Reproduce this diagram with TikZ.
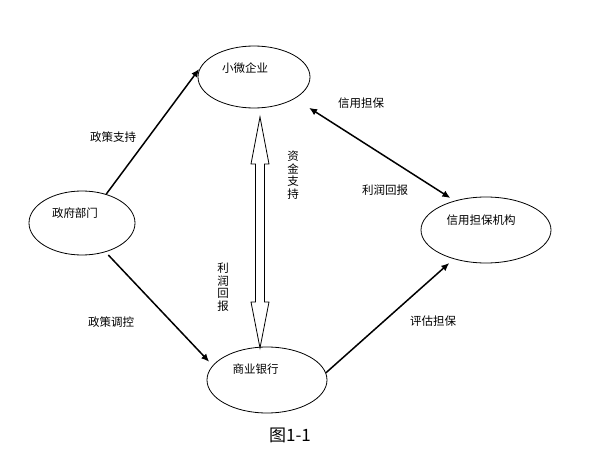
\documentclass[tikz,border=0pt]{standalone}
\usepackage{fontspec}
\setmainfont{Noto Sans CJK SC}
\newfontfamily\cjk{Noto Sans CJK SC}
\usetikzlibrary{shapes.geometric,arrows.meta}
\begin{document}
\begin{tikzpicture}[x=1pt,y=-1pt,
  ell/.style={draw,ellipse,line width=0.8pt,inner sep=0pt},
  lbl/.style={font=\cjk\fontsize{11.5}{12.5}\selectfont,inner sep=0pt},
  vlbl/.style={lbl,align=center},
  conn/.style={line width=1.5pt,-{Latex[length=8pt,width=7pt]}},
  biconn/.style={line width=1.5pt,{Latex[length=8pt,width=7pt]}-{Latex[length=8pt,width=7pt]}}]
\useasboundingbox (0,0) rectangle (600,473);
% ellipses
\node[ell,minimum width=112pt,minimum height=62pt] (sme) at (254,77) {};
\node[ell,minimum width=106pt,minimum height=64pt] (gov) at (82,223) {};
\node[ell,minimum width=130pt,minimum height=66pt] (credit) at (486,230) {};
\node[ell,minimum width=120pt,minimum height=66pt] (bank) at (267,380) {};
% node texts
\node[lbl] (smet) at (245,68) {小微企业};
\node[lbl] (govt) at (75,213) {政府部门};
\node[lbl] (creditt) at (481,220) {信用担保机构};
\node[lbl] (bankt) at (255.5,369) {商业银行};
% connectors
\draw[conn,shorten >=8pt] (gov.50) -- (sme.164);
\draw[conn,shorten <=4pt,shorten >=5pt] (gov.-51) -- (bank.165.5);
\draw[conn,shorten >=6pt] (bank.7) -- (credit.222);
\draw[biconn,shorten <=17pt,shorten >=5pt] (sme.-28) -- (credit.137);
% hollow double arrow
\coordinate (ta) at (260,117);
\coordinate (tb) at (260,348);
\draw[line width=0.8pt] (ta) -- ++(9,47) -- ++(-4.5,0) -- ++(0,138) -- ++(4.5,0) -- (tb)
  -- ++(-9,-46) -- ++(4.5,0) -- ++(0,-138) -- ++(-4.5,0) -- cycle;
% labels
\node[lbl] (l1) at (113,137) {政策支持};
\node[lbl] (l2) at (111,322) {政策调控};
\node[lbl] (l3) at (361,103) {信用担保};
\node[lbl] (l4) at (385,190) {利润回报};
\node[lbl] (l5) at (433,321) {评估担保};
\node[vlbl] (l6) at (293,175) {资\\金\\支\\持};
\node[vlbl] (l7) at (223,287) {利\\润\\回\\报};
\node[font=\cjk\fontsize{17}{20}\selectfont,inner sep=0pt] (title) at (290,435) {图1-1};
\end{tikzpicture}
\end{document}
